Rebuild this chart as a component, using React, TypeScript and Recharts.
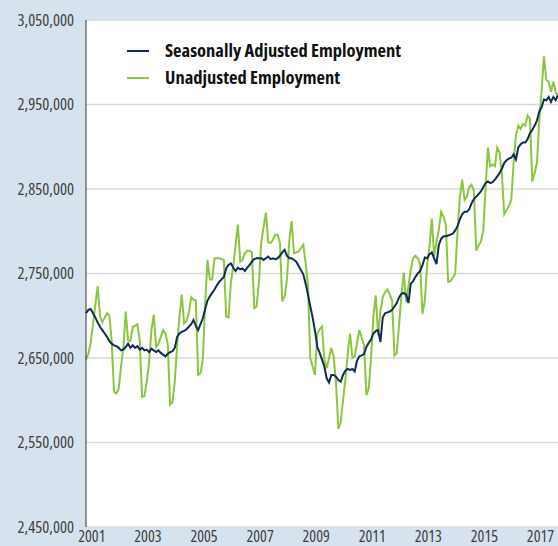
import { CartesianGrid, Legend, Line, LineChart, XAxis, YAxis } from "recharts";

// monthly employment, thousands, Jan 2001 onward
const seasonallyAdjusted = [
  2703, 2707, 2708, 2703, 2698, 2692, 2687, 2683, 2679, 2675, 2670, 2667,
  2665, 2664, 2662, 2659, 2660, 2663, 2667, 2662, 2665, 2662, 2664, 2660,
  2662, 2659, 2660, 2657, 2661, 2659, 2657, 2659, 2656, 2654, 2652, 2655,
  2657, 2658, 2662, 2675, 2679, 2681, 2682, 2684, 2687, 2690, 2695, 2688,
  2683, 2690, 2697, 2708, 2718, 2723, 2727, 2731, 2736, 2740, 2743, 2746,
  2756, 2760, 2762, 2757, 2753, 2757, 2755, 2756, 2753, 2757, 2760, 2764,
  2767, 2768, 2768, 2768, 2766, 2768, 2770, 2767, 2768, 2767, 2768, 2771,
  2775, 2778, 2771, 2768, 2768, 2766, 2764, 2759, 2754, 2749, 2738, 2725,
  2711, 2698, 2682, 2663, 2656, 2648, 2640, 2626, 2621, 2630, 2630, 2628,
  2624, 2622, 2630, 2635, 2637, 2636, 2637, 2634, 2647, 2652, 2653, 2655,
  2663, 2668, 2672, 2679, 2682, 2683, 2669, 2698, 2703, 2704, 2705, 2707,
  2711, 2715, 2722, 2726, 2727, 2725, 2715, 2738, 2741, 2746, 2750, 2753,
  2760, 2769, 2768, 2773, 2775, 2768, 2761, 2784, 2791, 2794, 2794, 2795,
  2796, 2797, 2801, 2806, 2814, 2820, 2823, 2823, 2826, 2833, 2838, 2841,
  2844, 2847, 2852, 2857, 2859, 2857, 2858, 2861, 2865, 2869, 2874, 2881,
  2884, 2886, 2887, 2891, 2885, 2899, 2903, 2905, 2905, 2909, 2916, 2920,
  2925, 2931, 2942, 2947, 2956, 2955, 2959, 2953, 2959, 2955, 2961,
];

const unadjusted = [
  2648, 2655, 2668, 2690, 2713, 2735, 2699, 2692, 2698, 2703, 2700, 2670,
  2610, 2608, 2614, 2640, 2662, 2705, 2671, 2670, 2687, 2688, 2690, 2671,
  2604, 2605, 2622, 2645, 2683, 2701, 2663, 2667, 2675, 2683, 2679, 2666,
  2595, 2598, 2622, 2665, 2699, 2725, 2691, 2694, 2703, 2722, 2719, 2718,
  2630, 2632, 2648, 2715, 2766, 2743, 2743, 2768, 2768, 2768, 2767, 2766,
  2699, 2698, 2739, 2758, 2783, 2808, 2764, 2766, 2774, 2777, 2777, 2775,
  2709, 2711, 2739, 2787, 2805, 2822, 2787, 2786, 2790, 2796, 2796, 2786,
  2717, 2723, 2743, 2789, 2812, 2774, 2775, 2776, 2780, 2784, 2762, 2735,
  2650, 2640, 2630, 2679, 2684, 2687, 2648, 2638, 2650, 2662, 2652, 2620,
  2566, 2574, 2600, 2624, 2655, 2679, 2650, 2652, 2668, 2683, 2674, 2665,
  2606, 2614, 2650, 2700, 2724, 2677, 2705, 2722, 2728, 2731, 2725, 2718,
  2653, 2656, 2690, 2725, 2751, 2716, 2735, 2755, 2768, 2771, 2768, 2761,
  2702, 2718, 2760, 2782, 2815, 2771, 2787, 2802, 2823, 2817, 2808, 2740,
  2741, 2745, 2750, 2800, 2840, 2861, 2837, 2841, 2852, 2855, 2848, 2777,
  2783, 2788, 2800, 2850, 2899, 2877, 2879, 2877, 2899, 2893, 2867, 2820,
  2825, 2830, 2837, 2881, 2913, 2925, 2921, 2927, 2925, 2937, 2933, 2859,
  2869, 2881, 2931, 2967, 3007, 2979, 2977, 2965, 2977, 2965, 2959,
];

const yearLabels = [2001, 2003, 2005, 2007, 2009, 2011, 2013, 2015, 2017];
const valueTicks = [2450000, 2550000, 2650000, 2750000, 2850000, 2950000, 3050000];

const FONT = "'Open Sans', Arial, sans-serif";
const NAVY = "#0c2d57";
const GREEN = "#8cc63f";

const rows = seasonallyAdjusted.map((v, i) => ({
  i,
  sa: v * 1000,
  nsa: unadjusted[i] * 1000,
}));

// label sits a little into each year, like the original
const xTicks = yearLabels.map((y) => (y - 2001) * 12 + 2.5);

function LegendBox() {
  const items = [
    { name: "Seasonally Adjusted Employment", color: NAVY },
    { name: "Unadjusted Employment", color: GREEN },
  ];
  return (
    <div style={{ fontFamily: FONT, fontStretch: "78%" }}>
      {items.map((it) => (
        <div
          key={it.name}
          style={{ display: "flex", alignItems: "center", height: 27, whiteSpace: "nowrap" }}
        >
          <div
            style={{
              width: 22,
              height: 2,
              background: it.color,
              marginRight: 16,
              marginTop: 3,
            }}
          />
          <span style={{ fontSize: 18.5, fontWeight: 700, color: "#111" }}>
            {it.name}
          </span>
        </div>
      ))}
    </div>
  );
}

export default function App() {
  return (
    <div
      style={{
        position: "absolute",
        left: 0,
        top: 0,
        width: 558,
        height: 546,
        background: "#d6e3ee",
        fontFamily: FONT,
        fontStretch: "84%",
      }}
    >
      <LineChart
        width={558}
        height={546}
        data={rows}
        margin={{ top: 20, right: 0, bottom: 0, left: 0 }}
      >
        <CartesianGrid
          vertical={false}
          fill="#ffffff"
          stroke="#dadada"
          strokeWidth={1.5}
        />
        <XAxis
          dataKey="i"
          type="number"
          domain={[0, seasonallyAdjusted.length - 1]}
          ticks={xTicks}
          interval={0}
          tickFormatter={(v) => String(2001 + Math.floor(Number(v) / 12))}
          axisLine={false}
          tickLine={false}
          tickMargin={-2}
          height={19}
          tick={{ fontSize: 16, fill: "#3f3f3f" }}
        />
        <YAxis
          domain={[2450000, 3050000]}
          ticks={valueTicks}
          interval={0}
          tickFormatter={(v) => Number(v).toLocaleString("en-US")}
          axisLine={{ stroke: "#333333", strokeWidth: 1 }}
          tickLine={false}
          tickMargin={6}
          width={86}
          tick={{ fontSize: 16.5, fill: "#3f3f3f" }}
        />
        <Legend
          layout="vertical"
          align="center"
          verticalAlign="middle"
          wrapperStyle={{ top: 36, left: 127, width: 320 }}
          content={() => <LegendBox />}
        />
        <Line
          dataKey="nsa"
          name="Unadjusted Employment"
          stroke={GREEN}
          strokeWidth={2}
          dot={false}
          isAnimationActive={false}
        />
        <Line
          dataKey="sa"
          name="Seasonally Adjusted Employment"
          stroke={NAVY}
          strokeWidth={2}
          dot={false}
          isAnimationActive={false}
        />
      </LineChart>
    </div>
  );
}
